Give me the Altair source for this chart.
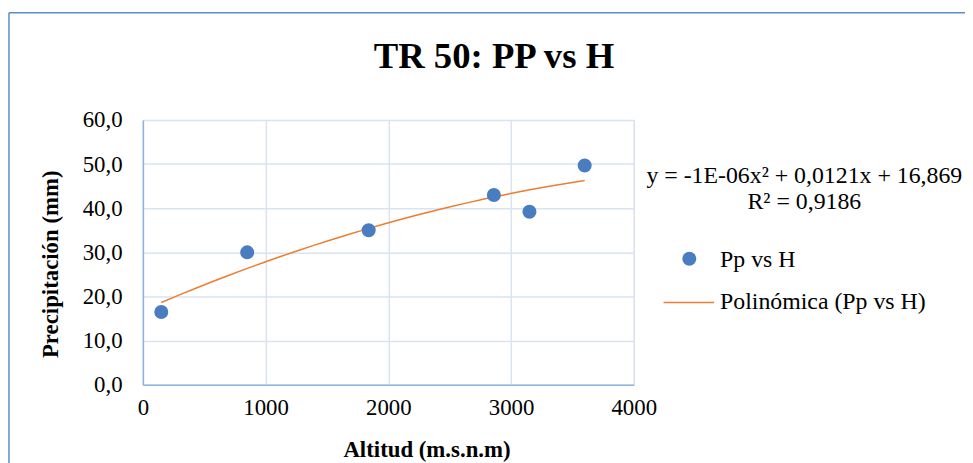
import altair as alt
import pandas as pd

# Data
altitud = [150, 850, 1840, 2860, 3150, 3600]
precip = [16.5, 30.0, 35.0, 43.0, 39.2, 49.7]
x_ticks = [0, 1000, 2000, 3000, 4000]
y_ticks = [0, 10, 20, 30, 40, 50, 60]
legend_labels = ["Pp vs H", "Polinómica (Pp vs H)"]
equation_lines = ["y = -1E-06x² + 0,0121x + 16,869", "R² = 0,9186"]
chart_title = "TR 50: PP vs H"

FONT = "Liberation Serif"
BLUE = "#4A7DC0"
ORANGE = "#ED7D31"
GRID = "#D9E4F2"
AXIS = "#8EB4E3"
BORDER = "#5A8ACF"

df = pd.DataFrame({"H": altitud, "P": precip})
one = alt.Data(values=[{"k": 0}])

x_enc = alt.X("H:Q", scale=alt.Scale(domain=[0, 4000], nice=False),
              axis=alt.Axis(values=x_ticks, format="d", title="Altitud (m.s.n.m)",
                            grid=True, gridColor=GRID, gridWidth=1.5,
                            domainColor=AXIS, domainWidth=1.5,
                            ticks=False, tickSize=0,
                            labelFont=FONT, labelFontSize=23, labelColor="#000000",
                            labelBaseline="alphabetic", labelPadding=30, labelFlush=False,
                            titleFont=FONT, titleFontSize=23, titleFontWeight="bold",
                            titleColor="#000000", titleX=286, titleY=72,
                            titleBaseline="alphabetic", titleAlign="center"))
y_enc = alt.Y("P:Q", scale=alt.Scale(domain=[0, 60], nice=False),
              axis=alt.Axis(values=y_ticks, title="Precipitación (mm)",
                            labelExpr="replace(format(datum.value, '.1f'), '.', ',')",
                            grid=True, gridColor=GRID, gridWidth=1.5,
                            domainColor=AXIS, domainWidth=1.5,
                            ticks=False, tickSize=0,
                            labelFont=FONT, labelFontSize=23, labelColor="#000000",
                            labelBaseline="middle", labelPadding=21,
                            titleFont=FONT, titleFontSize=23, titleFontWeight="bold",
                            titleColor="#000000", titleX=-86, titleY=145,
                            titleAngle=270, titleBaseline="alphabetic", titleAlign="center"))

base = alt.Chart(df)

trend = base.transform_regression("H", "P", method="poly", order=2).mark_line(
    color=ORANGE, strokeWidth=1.5
).encode(x=x_enc, y=y_enc)

points = base.mark_circle(size=200, color=BLUE, opacity=1).encode(x="H:Q", y="P:Q")

title = alt.Chart(one).mark_text(
    font=FONT, fontSize=37, fontWeight="bold", color="#000000", align="center",
    baseline="alphabetic"
).encode(x=alt.value(354), y=alt.value(-52), text=alt.value(chart_title))

equation = alt.Chart(one).mark_text(
    font=FONT, fontSize=24, color="#000000", align="center", baseline="alphabetic",
    lineHeight=26
).encode(x=alt.value(667), y=alt.value(64), text=alt.value(equation_lines))

leg_dot = alt.Chart(one).mark_circle(size=200, color=BLUE, opacity=1).encode(
    x=alt.value(551), y=alt.value(140))
leg_text1 = alt.Chart(one).mark_text(
    font=FONT, fontSize=24, color="#000000", align="left", baseline="alphabetic"
).encode(x=alt.value(582), y=alt.value(148), text=alt.value(legend_labels[0]))
leg_line = alt.Chart(one).mark_rule(color=ORANGE, strokeWidth=1.5).encode(
    x=alt.value(525), x2=alt.value(576), y=alt.value(184))
leg_text2 = alt.Chart(one).mark_text(
    font=FONT, fontSize=24, color="#000000", align="left", baseline="alphabetic"
).encode(x=alt.value(582), y=alt.value(191), text=alt.value(legend_labels[1]))

border_top = alt.Chart(one).mark_rule(color=BORDER, strokeWidth=1.5).encode(
    x=alt.value(-135), x2=alt.value(900), y=alt.value(-108))
border_left = alt.Chart(one).mark_rule(color=BORDER, strokeWidth=1.5).encode(
    x=alt.value(-135), y=alt.value(-108), y2=alt.value(400))

chart = alt.layer(
    trend, points, title, equation, leg_dot, leg_text1, leg_line, leg_text2,
    border_top, border_left
).properties(
    width=495, height=267,
    autosize=alt.AutoSizeParams(type="none"),
    padding={"left": 136, "top": 111, "right": 334, "bottom": 77},
    background="#FFFFFF",
).configure_view(stroke=GRID, strokeWidth=1.5).configure(font=FONT)

chart.save("out.html", embed_options={"renderer": "svg", "actions": False})
